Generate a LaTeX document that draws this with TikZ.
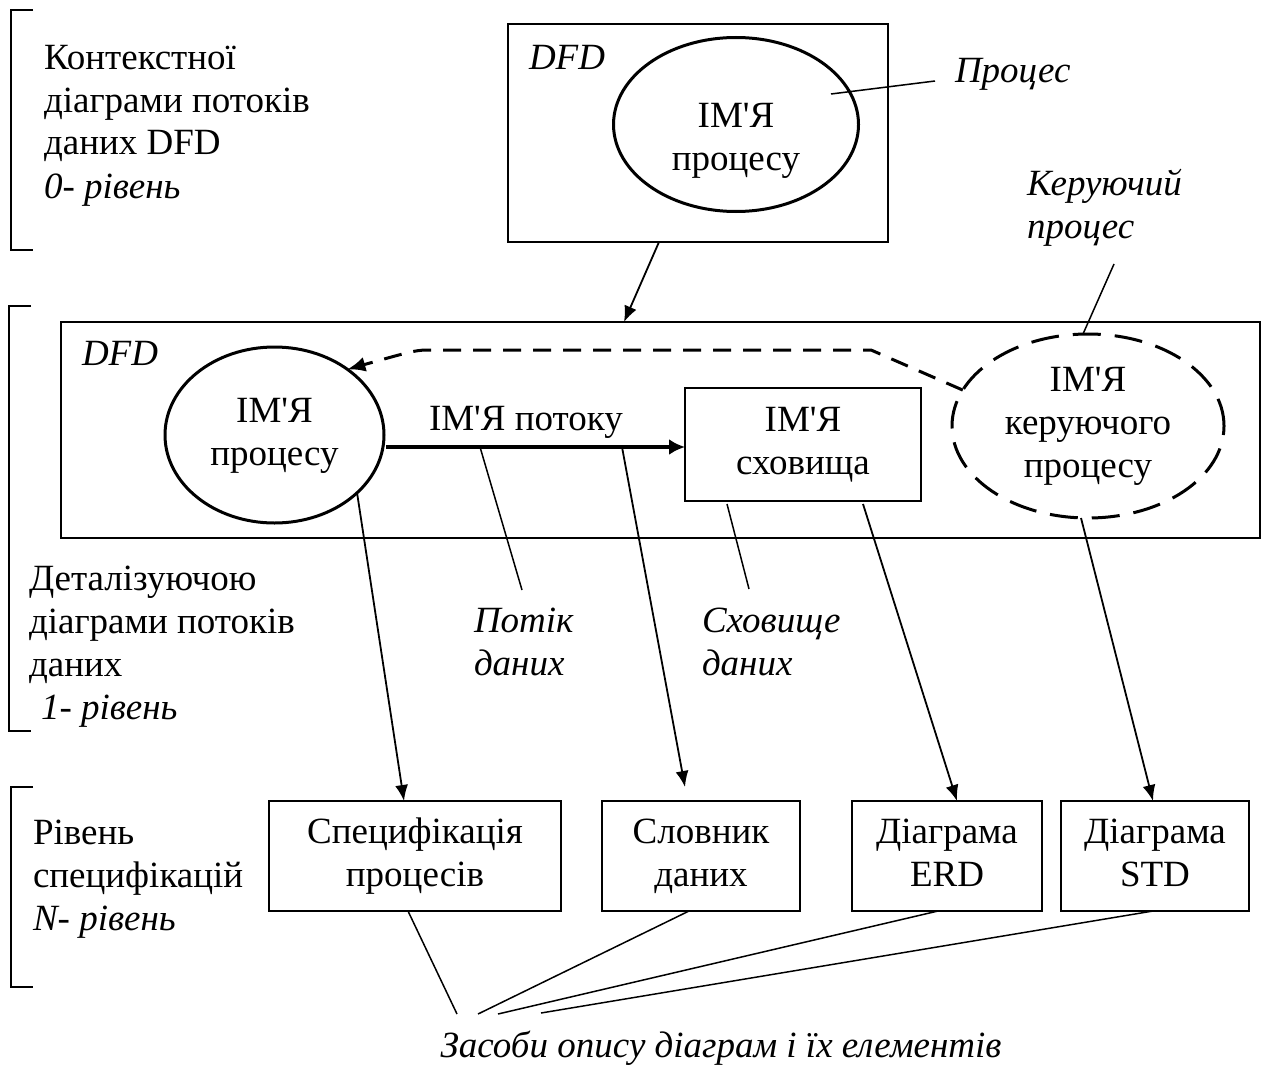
\documentclass[tikz,border=0pt]{standalone}
\usepackage{fontspec}
\setmainfont{Liberation Serif}
\newfontfamily\plainrm{Liberation Serif}
\usetikzlibrary{arrows.meta,shapes.geometric}
% straight apostrophe (the main font maps ' to a curly quote)
\newcommand\ap{{\plainrm'}}
% several lines, baseline on the first one
\newcommand\mlines[2][c]{\begin{tabular}[t]{@{}#1@{}}#2\end{tabular}}

\begin{document}
\begin{tikzpicture}[x=0.5pt,y=-0.5pt,
  every node/.style={inner sep=0pt,outer sep=0pt,font=\fontsize{18.5pt}{21.5pt}\selectfont},
  box/.style={draw,rectangle,line width=1pt},
  proc/.style={draw,ellipse,line width=1.5pt},
  ctrlproc/.style={draw,ellipse,line width=1.5pt,dash pattern=on 14pt off 7pt},
  bracket/.style={line width=1pt},
  lead/.style={line width=0.75pt},
  link/.style={line width=0.9pt,-{Latex[length=8pt,width=6.5pt]}},
  dataflow/.style={line width=2pt,-{Latex[length=8pt,width=8pt]}},
  ctrlflow/.style={line width=1.5pt,dash pattern=on 9pt off 6pt,-{Latex[length=9pt,width=7.5pt]}},
  lbl/.style={anchor=base west},
  mid/.style={anchor=base}
]
\useasboundingbox (0,0) rectangle (1262,1065);

% level brackets
\draw[bracket] (33,10) -- (11,10) -- (11,250) -- (33,250);
\draw[bracket] (31,306) -- (9,306) -- (9,731) -- (31,731);
\draw[bracket] (33,787) -- (11,787) -- (11,987) -- (33,987);

% level captions
\node[lbl] (lvl0) at (44,69) {\mlines[l]{Контекстної\\діаграми потоків\\даних DFD\\\textit{0- рівень}}};
\node[lbl] (lvl1) at (29,590) {\mlines[l]{Деталізуючою\\діаграми потоків\\даних\\\hspace{6pt}\textit{1- рівень}}};
\node[lbl] (lvlN) at (33,844) {\mlines[l]{Рівень\\специфікацій\\\textit{N- рівень}}};

% context diagram
\node[box,minimum width=190pt,minimum height=109pt] (ctxbox) at (698,133) {};
\node[lbl] (ctxdfd) at (529,69) {\textit{DFD}};
\node[proc,minimum width=122.5pt,minimum height=87pt] (ctxproc) at (736,124.5) {};
\node[mid] (ctxname) at (736,127) {\mlines{ІМ\ap Я\\процесу}};
\node[lbl] (proclbl) at (955,83) {\textit{Процес}};
\coordinate (procpin) at (831,94);
\draw[lead] (procpin) -- ([xshift=-10pt,yshift=1pt]proclbl.base west);

% detailed diagram
\node[box,minimum width=599.5pt,minimum height=108pt] (detbox) at (660.5,430) {};
\draw[link] ([xshift=75.5pt]ctxbox.south west) -- ([xshift=281.5pt]detbox.north west);
\node[lbl] (detdfd) at (82,365) {\textit{DFD}};
\node[proc,minimum width=109.5pt,minimum height=88pt] (dproc) at (274.5,435) {\mlines{ІМ\ap Я\\процесу}};
\node[box,minimum width=118pt,minimum height=56.5pt] (store) at (803,444.5) {\mlines{ІМ\ap Я\\сховища}};
\node[ctrlproc,minimum width=136pt,minimum height=92pt] (ctrl) at (1088,426) {\mlines{ІМ\ap Я\\керуючого\\процесу}};
\node[lbl] (flowname) at (429,430) {ІМ\ap Я потоку};

\coordinate (flowstart) at ([xshift=1pt,yshift=-6pt]dproc.east);
\draw[dataflow] (flowstart) -- (flowstart -| store.west);
\draw[ctrlflow] (ctrl.164) -- (871,350) -- (432,350) .. controls (416,350) .. (dproc.42);

\node[lbl] (ctrllbl) at (1027,195) {\mlines[l]{\textit{Керуючий}\\\textit{процес}}};
\coordinate (ctrlpin) at (1114,264);
\draw[lead] (ctrlpin) -- ([xshift=-2.5pt]ctrl.north);

\node[lbl] (flowlbl) at (474,632) {\mlines[l]{\textit{Потік}\\\textit{даних}}};
\coordinate (flowpin) at (480,447);
\draw[lead] (flowpin) -- ([xshift=24pt,yshift=21pt]flowlbl.base west);

\node[lbl] (storelbl) at (702,632) {\mlines[l]{\textit{Сховище}\\\textit{даних}}};
\draw[lead] ([xshift=21pt,yshift=-1.5pt]store.south west) -- ([xshift=23.5pt,yshift=21.5pt]storelbl.base west);

% specification level
\node[box,minimum width=146pt,minimum height=55pt] (spec) at (415,856) {\mlines{Специфікація\\процесів}};
\node[box,minimum width=99pt,minimum height=55pt] (dict) at (701,856) {\mlines{Словник\\даних}};
\node[box,minimum width=95pt,minimum height=55pt] (erd) at (947,856) {\mlines{Діаграма\\ERD}};
\node[box,minimum width=94pt,minimum height=55pt] (std) at (1155,856) {\mlines{Діаграма\\STD}};

\coordinate (dictpin) at (622,447);
\draw[link] (dproc.-35) -- ([xshift=67.5pt]spec.north west);
\draw[link] (dictpin) -- ([xshift=41.5pt,yshift=7pt]dict.north west);
\draw[link] ([xshift=89pt,yshift=-1.5pt]store.south west) -- ([xshift=52.5pt]erd.north west);
\draw[link] ([xshift=-3.5pt]ctrl.south) -- ([xshift=46pt]std.north west);

% description tools
\node[mid] (tools) at (721,1057) {\textit{Засоби опису діаграм і їх елементів}};
\draw[lead] ([xshift=-3.5pt]spec.south) -- ([xshift=-132pt,yshift=21.5pt]tools.base);
\draw[lead] ([xshift=-6pt]dict.south) -- ([xshift=-121.5pt,yshift=21.5pt]tools.base);
\draw[lead] ([xshift=-4.5pt]erd.south) -- ([xshift=-111.5pt,yshift=21.5pt]tools.base);
\draw[lead] ([xshift=-1pt]std.south) -- ([xshift=-90pt,yshift=22pt]tools.base);
\end{tikzpicture}
\end{document}
